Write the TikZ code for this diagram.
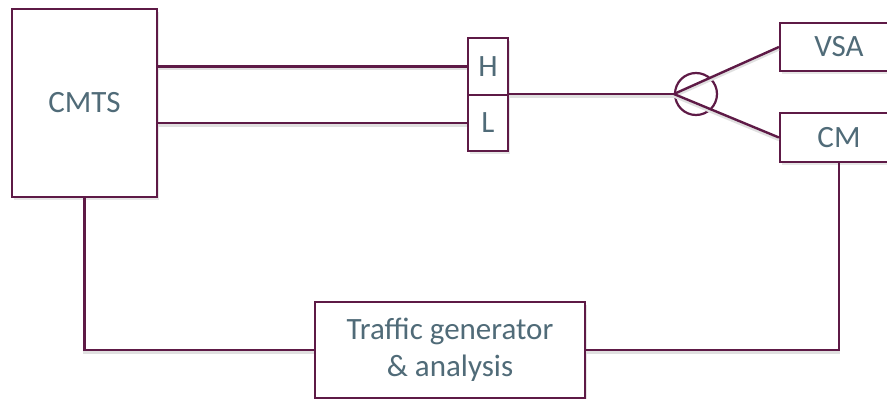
\documentclass[tikz,border=0pt]{standalone}
\usepackage{fontspec}
\setmainfont{Carlito}
\usepackage{tikz}
\usetikzlibrary{shapes.geometric, shadows, positioning}
\definecolor{lien}{RGB}{94,26,70}
\definecolor{texte}{RGB}{80,107,120}
\tikzstyle{boite} = [rectangle, draw = lien, line width = 2.2pt, fill = white, text = texte, font = \fontsize{31}{37}\selectfont, align = center, inner sep = 0pt, drop shadow = {opacity = 0.2, shadow xshift = 2pt, shadow yshift = -3pt}]
\tikzstyle{fil} = [draw = lien, line width = 2.4pt, preaction = {draw = black!12, line width = 2.4pt, transform canvas = {yshift = -2.5pt}}]

\begin{document}
\begin{tikzpicture}[x = 1pt, y = -1pt]
\useasboundingbox (0,0) rectangle (887,399) ;

\node (cmts) [boite, minimum width = 145pt, minimum height = 188pt] at (84.5,103) {CMTS} ;
\node (h) [boite, minimum width = 40pt, minimum height = 57pt] at (488,66.5) {H} ;
\node (l) [boite, minimum width = 40pt, minimum height = 56pt] at (488,123) {L} ;
\node (split) [circle, draw = lien, line width = 2.2pt, minimum size = 42pt, inner sep = 0pt] at (696,94) {} ;
\node (vsa) [boite, minimum width = 118pt, minimum height = 48pt] at (839,47) {VSA} ;
\node (cm) [boite, minimum width = 118pt, minimum height = 49pt] at (839,137.5) {CM} ;
\node (tg) [boite, minimum width = 270pt, minimum height = 96pt] at (450,350) {Traffic generator \\ \& analysis} ;

\draw[fil] (h.west -| cmts.east) -- (h.west) ;
\draw[fil] (l.west -| cmts.east) -- (l.west) ;
\draw[fil] (split.west -| h.east) -- (split.west) ;
\draw[fil] (split.west) -- (vsa.west) ;
\draw[fil] (split.west) -- (cm.west) ;
\draw[fil] (cmts.south) |- (tg.west) ;
\draw[fil] (cm.south) |- (tg.east) ;
\end{tikzpicture}
\end{document}
